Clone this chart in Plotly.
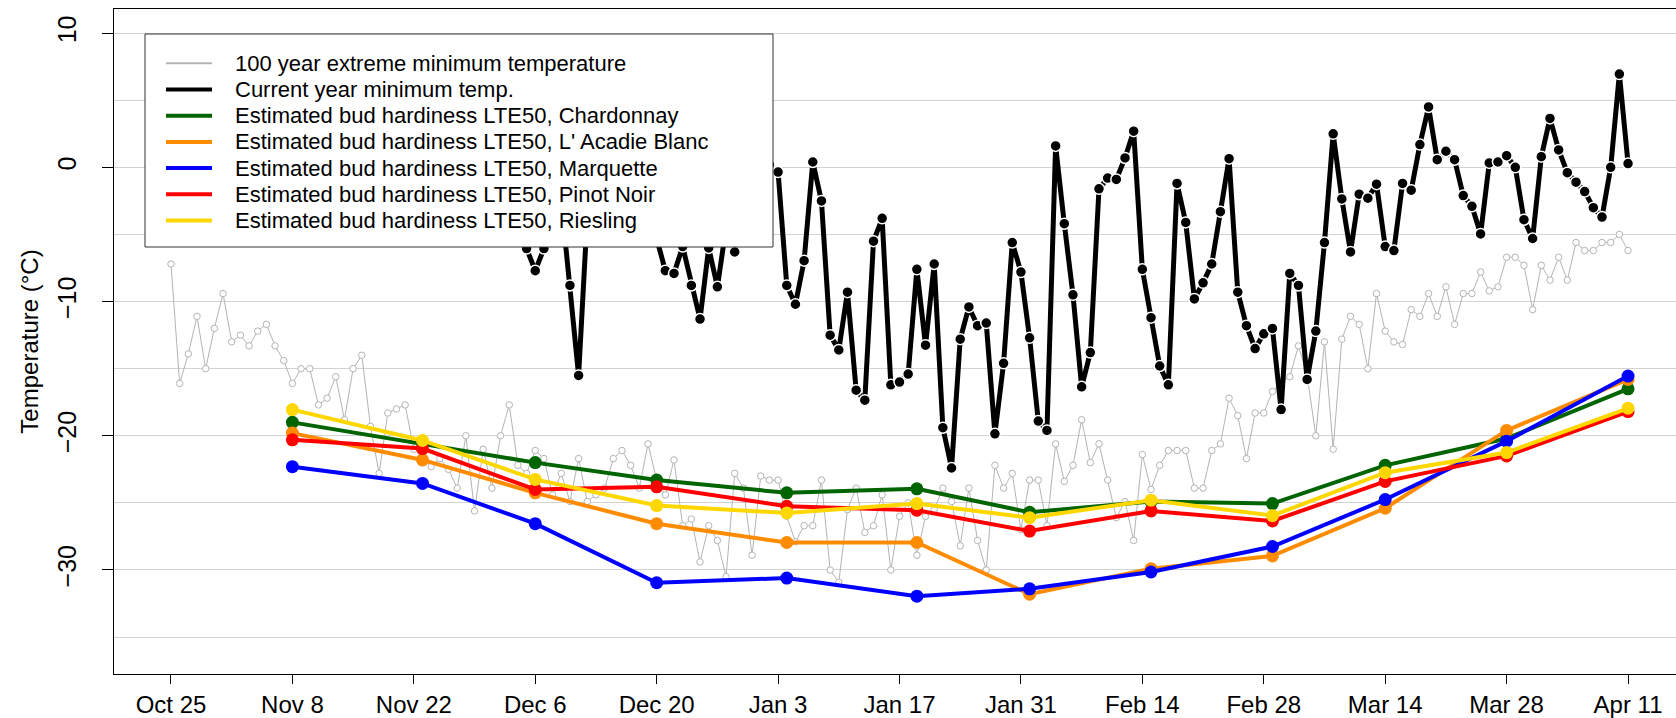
import plotly.graph_objects as go
import pandas as pd

# ---------------- data ----------------
hist_start = "2018-10-25"   # first day of the 100-year extreme minimum series
hist_min = [
    -7.2, -16.1, -13.9, -11.1, -15.0, -12.0, -9.4, -13.0, -12.5, -13.3,
    -12.2, -11.7, -13.3, -14.4, -16.1, -15.0, -15.0, -17.7, -17.2, -15.6,
    -18.8, -15.0, -14.0, -19.3, -22.8, -18.3, -18.0, -17.7, -21.0, -21.5,
    -22.3, -21.7, -22.5, -23.9, -20.0, -25.6, -21.0, -23.9, -20.0, -17.7,
    -22.2, -22.8, -21.1, -21.7, -24.4, -22.8, -24.9, -21.7, -24.9, -24.4,
    -23.9, -21.7, -21.1, -22.2, -23.9, -20.6, -23.3, -24.4, -21.8, -26.7,
    -26.2, -29.4, -26.7, -27.8, -30.5, -22.8, -23.9, -28.9, -23.0, -23.3,
    -23.3, -26.0, -27.9, -26.7, -26.7, -23.3, -30.0, -30.9, -25.5, -23.9,
    -27.2, -26.7, -24.4, -30.0, -26.0, -25.0, -28.9, -26.0, -25.5, -23.9,
    -24.9, -28.2, -23.9, -27.8, -30.0, -22.2, -23.9, -22.8, -27.0, -23.3,
    -23.3, -26.7, -20.6, -23.4, -22.2, -18.8, -22.0, -20.6, -23.3, -26.1,
    -24.9, -27.8, -21.4, -24.0, -22.2, -21.1, -21.1, -21.1, -23.9, -23.9,
    -21.1, -20.6, -17.2, -18.5, -21.7, -18.3, -18.3, -16.7, -16.0, -15.6,
    -13.3, -15.5, -20.0, -13.0, -21.0, -12.8, -11.1, -11.7, -15.0, -9.4,
    -12.2, -13.0, -13.2, -10.6, -11.1, -9.4, -11.1, -8.9, -11.7, -9.4,
    -9.4, -7.8, -9.2, -8.9, -6.7, -6.7, -7.3, -10.6, -7.3, -8.4,
    -6.7, -8.4, -5.6, -6.2, -6.2, -5.6, -5.6, -5.0, -6.2,
]

cur_start = "2018-12-05"    # first day of the current-year series
cur_min = [
    -6.05, -7.7, -6.05, -2.0, -2.5, -8.8, -15.5, -3.6, -1.0, -4.0,
    -2.0, 0.0, -3.0, -1.0, -4.0, -5.3, -7.7, -7.9, -5.9, -8.8,
    -11.3, -6.0, -8.9, -4.5, -6.3, -3.0, -2.0, -1.0, 0.2, -0.35,
    -8.8, -10.2, -6.95, 0.4, -2.5, -12.5, -13.6, -9.3, -16.6, -17.35,
    -5.5, -3.8, -16.2, -16.0, -15.4, -7.6, -13.25, -7.2, -19.4, -22.4,
    -12.8, -10.4, -11.8, -11.6, -19.85, -14.6, -5.6, -7.8, -12.7, -18.9,
    -19.6, 1.6, -4.2, -9.5, -16.35, -13.8, -1.6, -0.8, -0.9, 0.7,
    2.7, -7.6, -11.2, -14.8, -16.2, -1.2, -4.1, -9.8, -8.6, -7.2,
    -3.3, 0.65, -9.3, -11.8, -13.5, -12.4, -12.0, -18.05, -7.9, -8.8,
    -15.8, -12.2, -5.6, 2.5, -2.35, -6.3, -2.0, -2.3, -1.25, -5.9,
    -6.2, -1.2, -1.7, 1.7, 4.5, 0.57, 1.2, 0.57, -2.1, -2.9,
    -4.96, 0.33, 0.4, 0.87, 0.0, -3.9, -5.3, 0.8, 3.65, 1.3,
    -0.4, -1.1, -1.8, -3.0, -3.7, 0.0, 6.95, 0.28,
]

lte_dates = ["2018-11-08", "2018-11-23", "2018-12-06", "2018-12-20",
             "2019-01-04", "2019-01-19", "2019-02-01", "2019-02-15",
             "2019-03-01", "2019-03-14", "2019-03-28", "2019-04-11"]
lte_chardonnay = [-19.0, -20.6, -22.0, -23.3, -24.25, -23.95, -25.7, -24.9, -25.05, -22.2, -20.2, -16.5]
lte_lacadie    = [-19.8, -21.8, -24.25, -26.55, -27.95, -27.95, -31.8, -29.9, -28.95, -25.4, -19.6, -15.8]
lte_marquette  = [-22.3, -23.55, -26.55, -30.95, -30.6, -31.95, -31.4, -30.15, -28.25, -24.75, -20.4, -15.55]
lte_pinot      = [-20.3, -20.95, -24.0, -23.8, -25.25, -25.55, -27.1, -25.6, -26.35, -23.4, -21.5, -18.2]
lte_riesling   = [-18.05, -20.35, -23.25, -25.2, -25.75, -25.05, -26.1, -24.8, -25.95, -22.75, -21.25, -17.95]

tick_start = "2018-10-25"
tick_labels = ["Oct 25", "Nov 8", "Nov 22", "Dec 6", "Dec 20", "Jan 3", "Jan 17",
               "Jan 31", "Feb 14", "Feb 28", "Mar 14", "Mar 28", "Apr 11"]

legend_labels = ["100 year extreme minimum temperature",
                 "Current year minimum temp.",
                 "Estimated bud hardiness LTE50, Chardonnay",
                 "Estimated bud hardiness LTE50, L' Acadie Blanc",
                 "Estimated bud hardiness LTE50, Marquette",
                 "Estimated bud hardiness LTE50, Pinot Noir",
                 "Estimated bud hardiness LTE50, Riesling"]

# ---------------- styling ----------------
FONT = "Liberation Sans, Arial, sans-serif"
GRAY = "#b4b4b4"
lte_colors = ["#006400", "#FF8C00", "#0000FF", "#FF0000", "#FFD700"]
legend_colors = [GRAY, "black"] + lte_colors
legend_widths = [2, 4, 4, 4, 4, 4, 4]

W, H = 1676, 718
ML, MR, MT, MB = 114, 0, 9, 44
PW, PH = W - ML - MR, H - MT - MB


def px_x(p):   # pixel column -> paper x
    return (p - ML) / PW


def px_y(p):   # pixel row -> paper y
    return (H - MB - p) / PH


hist_x = pd.date_range(hist_start, periods=len(hist_min), freq="D")
cur_x = pd.date_range(cur_start, periods=len(cur_min), freq="D")
tick_x = pd.date_range(tick_start, periods=len(tick_labels), freq="14D")
lte_x = pd.to_datetime(lte_dates)

fig = go.Figure()

fig.add_trace(go.Scatter(
    x=hist_x, y=hist_min, mode="lines+markers", name=legend_labels[0],
    line=dict(color=GRAY, width=1),
    marker=dict(symbol="circle", size=6.5, color="white",
                line=dict(color=GRAY, width=1)),
))
fig.add_trace(go.Scatter(
    x=cur_x, y=cur_min, mode="lines+markers", name=legend_labels[1],
    line=dict(color="black", width=5),
    marker=dict(symbol="circle", size=11, color="black",
                line=dict(color="white", width=1.5)),
))
for label, vals, col in zip(legend_labels[2:],
                            [lte_chardonnay, lte_lacadie, lte_marquette,
                             lte_pinot, lte_riesling],
                            lte_colors):
    fig.add_trace(go.Scatter(
        x=lte_x, y=vals, mode="lines+markers", name=label,
        line=dict(color=col, width=4),
        marker=dict(symbol="circle", size=13, color=col),
    ))

# ---------------- legend box (drawn like the R legend) ----------------
box_l, box_r, box_t, box_b = 145, 773, 34, 247
row0, row_step = 63.3, 26.2
line_x0, line_x1, text_x = 166, 212, 233

shapes = [dict(type="rect", xref="paper", yref="paper", layer="above",
               x0=px_x(box_l), x1=px_x(box_r), y0=px_y(box_b), y1=px_y(box_t),
               fillcolor="white", line=dict(color="#333333", width=1))]
annotations = []
for i, (lab, col, lw) in enumerate(zip(legend_labels, legend_colors, legend_widths)):
    yy = px_y(row0 + i * row_step)
    shapes.append(dict(type="line", xref="paper", yref="paper", layer="above",
                       x0=px_x(line_x0), x1=px_x(line_x1), y0=yy, y1=yy,
                       line=dict(color=col, width=lw)))
    annotations.append(dict(xref="paper", yref="paper", x=px_x(text_x), y=yy,
                            xanchor="left", yanchor="middle", showarrow=False,
                            text=lab, font=dict(family=FONT, size=22, color="black")))

x0 = pd.Timestamp(tick_start) - pd.Timedelta(days=6.57)
x1 = pd.Timestamp(tick_start) + pd.Timedelta(days=173.53)

fig.update_layout(
    width=W, height=H,
    margin=dict(l=ML, r=MR, t=MT, b=MB, autoexpand=False),
    paper_bgcolor="white", plot_bgcolor="white",
    font=dict(family=FONT, color="black"),
    showlegend=False,
    shapes=shapes, annotations=annotations,
    xaxis=dict(
        type="date", range=[x0, x1], automargin=False,
        tickmode="array", tickvals=tick_x, ticktext=tick_labels,
        ticks="outside", ticklen=9, tickwidth=1, tickcolor="black",
        tickfont=dict(family=FONT, size=24, color="black"),
        showline=True, linecolor="black", linewidth=1, mirror=True,
        showgrid=False, zeroline=False,
    ),
    yaxis=dict(
        range=[-37.75, 11.8], automargin=False,
        tickmode="linear", tick0=0, dtick=10,
        ticks="outside", ticklen=11, tickwidth=1, tickcolor="black",
        tickangle=-90, ticklabelstandoff=16,
        tickfont=dict(family=FONT, size=25, color="black"),
        showline=True, linecolor="black", linewidth=1,
        showgrid=True, gridcolor="#d3d3d3", gridwidth=1,
        minor=dict(tick0=0, dtick=5, showgrid=True, gridcolor="#d3d3d3",
                   gridwidth=1, ticks=""),
        zeroline=False,
        title=dict(text="Temperature (°C)",
                   font=dict(family=FONT, size=24, color="black"),
                   standoff=7),
    ),
)

fig.write_html("out.html",
               config={"displayModeBar": False},
               post_script="document.body.style.margin='0px';"
                           "document.body.style.overflow='hidden';")
